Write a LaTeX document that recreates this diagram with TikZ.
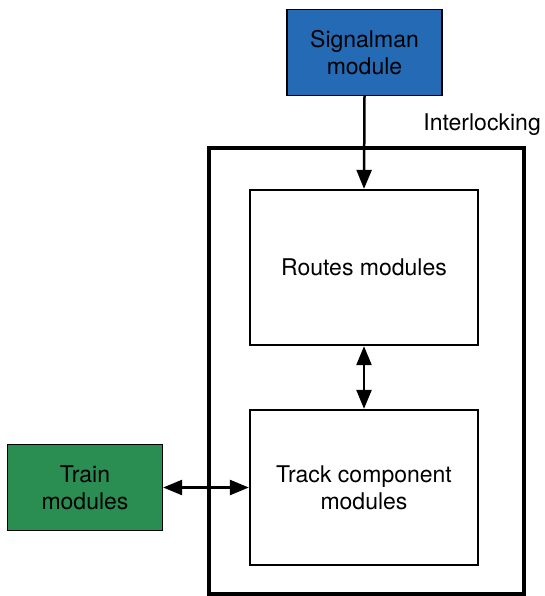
\documentclass[tikz,border=0pt]{standalone}
\usepackage{fontspec}
\setmainfont{TeX Gyre Heros}
\usetikzlibrary{arrows.meta}
\definecolor{sigblue}{RGB}{36,106,180}
\definecolor{traingreen}{RGB}{42,142,82}
\begin{document}
\begin{tikzpicture}[x=1pt,y=-1pt,
  every node/.style={font=\fontsize{23}{27}\selectfont},
  colbox/.style={draw=black,line width=1.3pt,minimum width=155pt,minimum height=86pt,align=center,inner sep=0pt},
  inbox/.style={draw=black,line width=2.3pt,minimum width=228pt,minimum height=155pt,align=center,inner sep=0pt},
  conn/.style={line width=2.5pt,-{Triangle[length=19pt,width=15pt]}},
  biconn/.style={line width=2.5pt,{Triangle[length=19pt,width=15pt]}-{Triangle[length=19pt,width=15pt]}}]
\useasboundingbox (0,0) rectangle (544,596);
\node[colbox,fill=sigblue] (sig) at (364.5,52.5) {Signalman\\module};
\node[draw=black,line width=4pt,minimum width=315pt,minimum height=446pt,inner sep=0pt] (outer) at (366,371) {};
\node[anchor=base east,inner sep=0pt] (lab) at (541,131) {Interlocking};
\node[inbox] (routes) at (364,267.5) {Routes modules};
\node[inbox] (track) at (364,487.5) {Track component\\modules};
\node[colbox,fill=traingreen] (train) at (85,487.5) {Train\\modules};
\draw[conn] (sig.south) -- (routes.north);
\draw[biconn] (routes.south) -- (track.north);
\draw[biconn] (train.east) -- (track.west);
\end{tikzpicture}
\end{document}
